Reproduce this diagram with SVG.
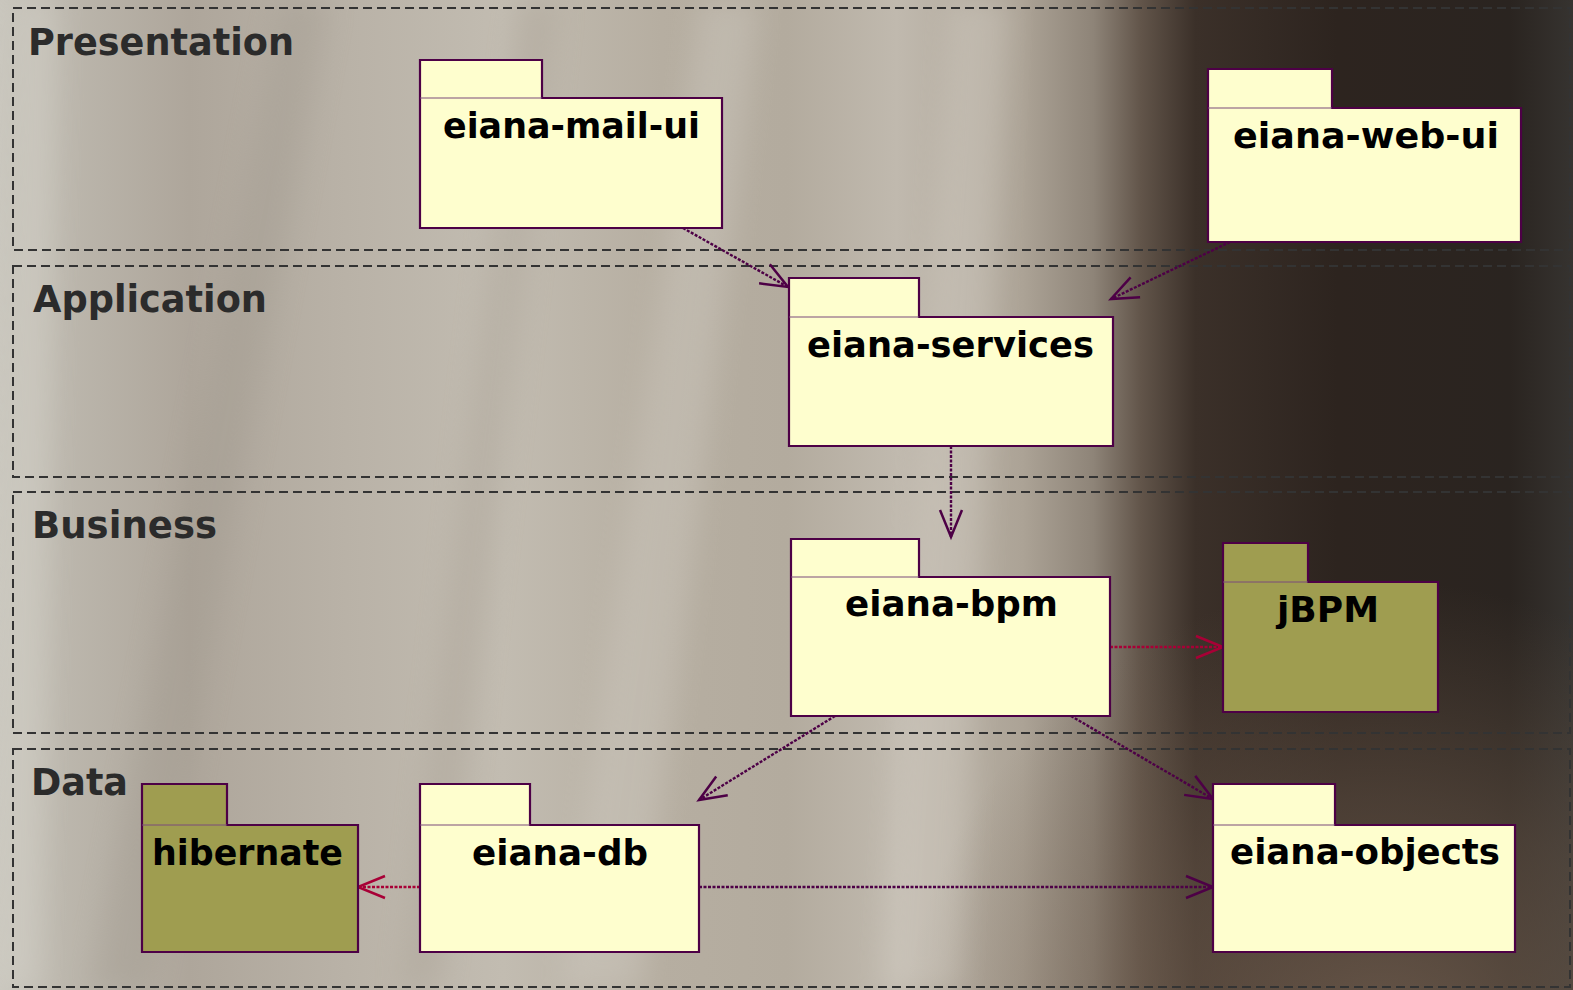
<svg xmlns="http://www.w3.org/2000/svg" width="1573" height="990" viewBox="0 0 1573 990">
<defs>
<linearGradient id="bg" x1="0" y1="0" x2="1" y2="0">
<stop offset="0" stop-color="#c9c6bd"/>
<stop offset="0.04" stop-color="#bcb7ad"/>
<stop offset="0.12" stop-color="#aea69b"/>
<stop offset="0.22" stop-color="#b9b2a7"/>
<stop offset="0.32" stop-color="#c2bcb1"/>
<stop offset="0.42" stop-color="#b6aea1"/>
<stop offset="0.50" stop-color="#b3ab9e"/>
<stop offset="0.57" stop-color="#c0b9ae"/>
<stop offset="0.65" stop-color="#aca396"/>
<stop offset="0.695" stop-color="#8e8478"/>
<stop offset="0.725" stop-color="#62554a"/>
<stop offset="0.76" stop-color="#3b3029"/>
<stop offset="0.85" stop-color="#2d241f"/>
<stop offset="0.96" stop-color="#2a2420"/>
<stop offset="1" stop-color="#363330"/>
</linearGradient>
<radialGradient id="bgr" gradientUnits="userSpaceOnUse" cx="1380" cy="1060" r="480">
<stop offset="0" stop-color="#7a6656" stop-opacity="0.8"/>
<stop offset="0.55" stop-color="#6e5c4d" stop-opacity="0.45"/>
<stop offset="1" stop-color="#6a5848" stop-opacity="0"/>
</radialGradient>
<filter id="blur" x="-20%" y="-20%" width="140%" height="140%"><feGaussianBlur stdDeviation="14"/></filter>
<marker id="ap" markerUnits="userSpaceOnUse" markerWidth="40" markerHeight="40" refX="0" refY="0" orient="auto" overflow="visible">
<path d="M-27,-11 L0,0 L-27,11" fill="none" stroke="#4d0046" stroke-width="2.5"/>
</marker>
<marker id="ar" markerUnits="userSpaceOnUse" markerWidth="40" markerHeight="40" refX="0" refY="0" orient="auto" overflow="visible">
<path d="M-27,-11 L0,0 L-27,11" fill="none" stroke="#a80036" stroke-width="2.5"/>
</marker>
</defs>
<style>
.frame{fill:none;stroke:#333;stroke-width:2;stroke-dasharray:9 5}
.flabel{font-family:"DejaVu Sans",Verdana,sans-serif;font-weight:bold;font-size:37px;fill:#2b2b2b}
.pkg{fill:#fefece;stroke:#4d0046;stroke-width:2.2}
.lib{fill:#9f9d50;stroke:#4d0046;stroke-width:2.2}
.sep{stroke:#7a4a7a;stroke-width:1}
.nlabel{font-family:"DejaVu Sans",Verdana,sans-serif;font-weight:bold;font-size:35px;fill:#000;text-anchor:middle}
.dep{fill:none;stroke:#4d0046;stroke-width:2.4;stroke-dasharray:3 1.5;marker-end:url(#ap)}
.depr{fill:none;stroke:#a80036;stroke-width:2.4;stroke-dasharray:3 1.5;marker-end:url(#ar)}
</style>
<rect x="0" y="0" width="1573" height="990" fill="url(#bg)"/>
<rect x="0" y="0" width="1573" height="990" fill="url(#bgr)"/>
<g filter="url(#blur)" opacity="0.3">
<polygon points="90,990 150,990 330,0 280,0" fill="#9d968b"/>
<polygon points="560,990 640,990 760,0 700,0" fill="#d8d4cc"/>
<polygon points="880,990 960,990 1010,0 950,0" fill="#ddd8cf"/>
<polygon points="400,990 440,990 560,0 520,0" fill="#a49b8f"/>
<polygon points="0,990 40,990 60,0 20,0" fill="#dcdad2"/>
</g>
<g id="frames">
<g id="frame-presentation">
<rect class="frame" x="13" y="8" width="1557" height="242"/>
<text class="flabel" x="28" y="55" textLength="266" lengthAdjust="spacingAndGlyphs">Presentation</text>
</g>
<g id="frame-application">
<rect class="frame" x="13" y="266" width="1557" height="211"/>
<text class="flabel" x="33" y="312" textLength="234" lengthAdjust="spacingAndGlyphs">Application</text>
</g>
<g id="frame-business">
<rect class="frame" x="13" y="492" width="1557" height="241"/>
<text class="flabel" x="32" y="538" textLength="185" lengthAdjust="spacingAndGlyphs">Business</text>
</g>
<g id="frame-data">
<rect class="frame" x="13" y="749" width="1557" height="238"/>
<text class="flabel" x="31" y="795" textLength="97" lengthAdjust="spacingAndGlyphs">Data</text>
</g>
</g>
<g id="connectors">
<line class="dep" x1="683" y1="228" x2="788" y2="287"/>
<line class="dep" x1="1230" y1="242" x2="1111" y2="299"/>
<line class="dep" x1="951" y1="446" x2="951" y2="537"/>
<line class="depr" x1="1110" y1="647" x2="1223" y2="647"/>
<line class="dep" x1="835" y1="716" x2="699" y2="800"/>
<line class="dep" x1="1071" y1="716" x2="1213" y2="799"/>
<line class="depr" x1="420" y1="887" x2="358" y2="887"/>
<line class="dep" x1="699" y1="887" x2="1213" y2="887"/>
</g>
<g id="node-eiana-mail-ui">
<path class="pkg" d="M420,228 V60 H542 V98 H722 V228 Z"/>
<line class="sep" x1="420" y1="98" x2="542" y2="98"/>
<text class="nlabel" x="571.5" y="138" textLength="257" lengthAdjust="spacingAndGlyphs">eiana-mail-ui</text>
</g>
<g id="node-eiana-web-ui">
<path class="pkg" d="M1208,242 V69 H1332 V108 H1521 V242 Z"/>
<line class="sep" x1="1208" y1="108" x2="1332" y2="108"/>
<text class="nlabel" x="1366" y="148" textLength="266" lengthAdjust="spacingAndGlyphs">eiana-web-ui</text>
</g>
<g id="node-eiana-services">
<path class="pkg" d="M789,446 V278 H919 V317 H1113 V446 Z"/>
<line class="sep" x1="789" y1="317" x2="919" y2="317"/>
<text class="nlabel" x="950.5" y="357" textLength="287" lengthAdjust="spacingAndGlyphs">eiana-services</text>
</g>
<g id="node-eiana-bpm">
<path class="pkg" d="M791,716 V539 H919 V577 H1110 V716 Z"/>
<line class="sep" x1="791" y1="577" x2="919" y2="577"/>
<text class="nlabel" x="951.5" y="616" textLength="213" lengthAdjust="spacingAndGlyphs">eiana-bpm</text>
</g>
<g id="node-jbpm">
<path class="lib" d="M1223,712 V543 H1308 V582 H1438 V712 Z"/>
<line class="sep" x1="1223" y1="582" x2="1308" y2="582"/>
<text class="nlabel" x="1328" y="622" textLength="102" lengthAdjust="spacingAndGlyphs">jBPM</text>
</g>
<g id="node-hibernate">
<path class="lib" d="M142,952 V784 H227 V825 H358 V952 Z"/>
<line class="sep" x1="142" y1="825" x2="227" y2="825"/>
<text class="nlabel" x="247.5" y="865" textLength="191" lengthAdjust="spacingAndGlyphs">hibernate</text>
</g>
<g id="node-eiana-db">
<path class="pkg" d="M420,952 V784 H530 V825 H699 V952 Z"/>
<line class="sep" x1="420" y1="825" x2="530" y2="825"/>
<text class="nlabel" x="560" y="865" textLength="176" lengthAdjust="spacingAndGlyphs">eiana-db</text>
</g>
<g id="node-eiana-objects">
<path class="pkg" d="M1213,952 V784 H1335 V825 H1515 V952 Z"/>
<line class="sep" x1="1213" y1="825" x2="1335" y2="825"/>
<text class="nlabel" x="1365" y="864" textLength="270" lengthAdjust="spacingAndGlyphs">eiana-objects</text>
</g>
</svg>
